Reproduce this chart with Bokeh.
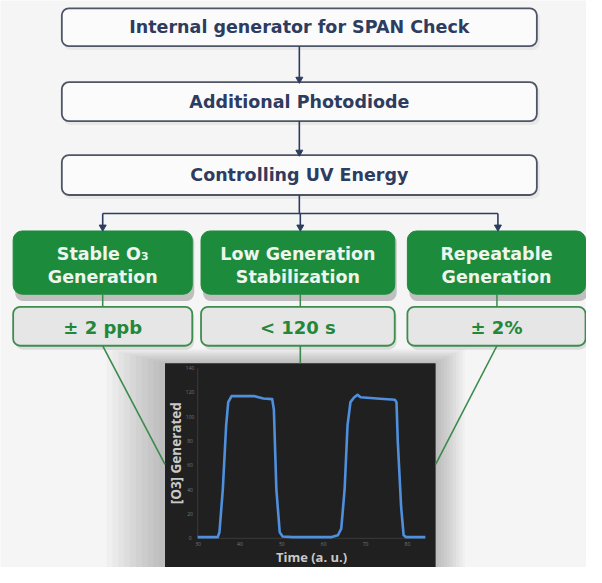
from bokeh.plotting import figure
from bokeh.models import Range1d, BoxAnnotation
from bokeh.embed import file_html
from bokeh.resources import INLINE
from bokeh.core.properties import value
import math

# ---------------- data ----------------
flow_steps = ["Internal generator for SPAN Check", "Additional Photodiode", "Controlling UV Energy"]
feature_line1 = ["Stable O\u2083", "Low Generation", "Repeatable"]
feature_line2 = ["Generation", "Stabilization", "Generation"]
feature_specs = ["\u00b1 2 ppb", "< 120 s", "\u00b1 2%"]

time_au = [29.9, 34.7, 35.1, 35.9, 36.7, 37.2, 38.0, 39.0, 43.3, 45.6, 47.7, 48.1, 48.7, 49.5,
           50.2, 52.6, 61.9, 63.4, 64.2, 65.0, 65.7, 66.4, 67.3, 68.1, 68.8, 72.7, 77.0, 77.4,
           77.7, 78.5, 79.1, 79.7, 84.3]
o3_generated = [1, 1, 5, 40, 93, 112, 117, 117, 117, 115, 114.5, 106, 40, 5,
                1.5, 1, 1, 2.5, 8, 40, 93, 112, 116, 118, 116, 115, 114, 112,
                80, 26, 2.5, 1, 1]
x_ticks = [30, 40, 50, 60, 70, 80]
y_ticks = [0, 20, 40, 60, 80, 100, 120, 140]
x_title = "Time (a. u.)"
y_title = "[O3] Generated"

# ---------------- layout (reference pixel space) ----------------
REF_W, REF_H = 602, 583
FONT = value("DejaVu Sans")
INSET_FONT = value("Open Sans")
NAVY = "#2d3c5f"
GREEN = "#1d8b3c"

p = figure(width=586, height=567, x_range=Range1d(0, REF_W), y_range=Range1d(REF_H, 0),
           x_axis_type=None, y_axis_type=None, output_backend="svg", toolbar_location=None,
           min_border=0)
p.grid.visible = False
p.outline_line_color = None
p.background_fill_color = "#f5f5f5"
p.border_fill_color = "#f5f5f5"

def box(l, r, t, b, fill, line, radius, alpha=1.0, lw=1.6, line_alpha=1.0):
    p.add_layout(BoxAnnotation(left=l, right=r, top=t, bottom=b, fill_color=fill, fill_alpha=alpha,
                               line_color=line, line_width=lw, line_alpha=line_alpha,
                               border_radius=radius, level="underlay"))

# top flow boxes
top_boxes = [(8, 47), (84, 124), (159, 200)]
for (t, b) in top_boxes:
    box(65, 554, t + 3, b + 4, "#000000", None, 7, alpha=0.05)
for (t, b) in top_boxes:
    box(63, 551, t, b, "#fbfbfb", "#4e5566", 7, lw=1.8)

# green feature boxes and grey spec boxes
cols = [(13, 197), (206, 405), (418, 601)]
for (l, r) in cols:
    box(l + 2, r + 2, 240, 309, "#000000", None, 8, alpha=0.22)
    box(l + 2, r + 2, 318, 359, "#000000", None, 8, alpha=0.10)
for (l, r) in cols:
    box(l, r, 237, 302, GREEN, GREEN, 9, lw=1)
    box(l, r, 315, 355, "#e5e6e5", "#3f8c4f", 7, lw=1.8)

# soft shadow around the inset chart (stacked translucent layers)
for i in range(10):
    box(169 - 6 * (i + 1), 447 + 3 * (i + 1), 373 - 1.5 * (i + 1), 590, "#000000", None, 0,
        alpha=0.022)
# inset panel
box(169, 447, 373, 590, "#202020", None, 0)

# connectors between top boxes
cx = 307
p.segment(x0=[cx, cx], y0=[47, 124], x1=[cx, cx], y1=[80, 155], line_color=NAVY, line_width=1.6)
p.scatter(x=[cx, cx], y=[81, 156], marker="inverted_triangle", size=7, fill_color=NAVY,
          line_color=NAVY)
# branching
p.segment(x0=[cx, 105], y0=[200, 219], x1=[cx, 511], y1=[219, 219], line_color=NAVY, line_width=1.6)
p.segment(x0=[105, 308, 511], y0=[219, 219, 219], x1=[105, 308, 511], y1=[232, 232, 232],
          line_color=NAVY, line_width=1.6)
p.scatter(x=[105, 308, 511], y=[233, 233, 233], marker="inverted_triangle", size=7,
          fill_color=NAVY, line_color=NAVY)

# green connectors
gc = "#3b8a4b"
p.segment(x0=[105, 308, 510], y0=[302, 302, 302], x1=[105, 308, 510], y1=[315, 315, 315],
          line_color=gc, line_width=1.5)
p.segment(x0=[105, 308, 510], y0=[355, 355, 355], x1=[169, 308, 447], y1=[477, 373, 477],
          line_color=gc, line_width=1.6)

# texts
p.text(x=[cx] * 3, y=[27.5, 104, 179.5], text=flow_steps, text_font=FONT, text_font_style="bold",
       text_font_size="17.5px", text_color=NAVY, text_align="center", text_baseline="middle")
centers = [(l + r) / 2 for (l, r) in cols]
p.text(x=centers, y=[261] * 3, text=feature_line1, text_font=FONT, text_font_style="bold",
       text_font_size="17.5px", text_color="#eef5ee", text_align="center", text_baseline="middle")
p.text(x=centers, y=[284] * 3, text=feature_line2, text_font=FONT, text_font_style="bold",
       text_font_size="17.5px", text_color="#eef5ee", text_align="center", text_baseline="middle")
p.text(x=centers, y=[336] * 3, text=feature_specs, text_font=FONT, text_font_style="bold",
       text_font_size="18px", text_color="#23873a", text_align="center", text_baseline="middle")

# ---------------- inset chart through its own ranges ----------------
PX_T0, PX_T1 = 203, 418        # reference pixels of the first and last x tick
PY_V0, PY_VTOP = 553, 378      # reference pixels of the first and last y tick
kx = (PX_T1 - PX_T0) / (x_ticks[-1] - x_ticks[0])
ky = (PY_V0 - PY_VTOP) / (y_ticks[-1] - y_ticks[0])
p.extra_x_ranges = {"t": Range1d(x_ticks[0] - PX_T0 / kx, x_ticks[0] + (REF_W - PX_T0) / kx)}
p.extra_y_ranges = {"v": Range1d(y_ticks[0] - (REF_H - PY_V0) / ky, y_ticks[0] + PY_V0 / ky)}

tmin, tmax = min(time_au), max(time_au)
# faint axis lines
p.segment(x0=[tmin, tmin], y0=[y_ticks[0], y_ticks[0]], x1=[tmax, tmin], y1=[y_ticks[0], y_ticks[-1]],
          x_range_name="t", y_range_name="v", line_color="#3a3a3a", line_width=1)
p.line(time_au, o3_generated, x_range_name="t", y_range_name="v", line_color="#4f8fdc",
       line_width=2.6, line_join="round")
p.text(x=x_ticks, y=[y_ticks[0]] * len(x_ticks), text=[str(v) for v in x_ticks],
       x_range_name="t", y_range_name="v", y_offset=4, text_font=INSET_FONT, text_font_size="5px",
       text_color="#777777", text_align="center", text_baseline="top")
p.text(x=[x_ticks[0]] * len(y_ticks), y=y_ticks, text=[str(v) for v in y_ticks],
       x_range_name="t", y_range_name="v", x_offset=-8, text_font=INSET_FONT, text_font_size="5px",
       text_color="#777777", text_align="center", text_baseline="middle")
p.text(x=[(tmin + tmax) / 2], y=[y_ticks[0]], text=[x_title], x_range_name="t", y_range_name="v",
       y_offset=10, text_font=INSET_FONT, text_font_style="bold", text_font_size="13px",
       text_color="#c9c9c9", text_align="center", text_baseline="top")
p.text(x=[x_ticks[0]], y=[(y_ticks[0] + y_ticks[-1]) / 2], text=[y_title], x_range_name="t",
       y_range_name="v", x_offset=-22, angle=math.pi / 2, text_font=INSET_FONT,
       text_font_style="bold", text_font_size="13.5px", text_color="#c9c9c9",
       text_align="center", text_baseline="middle")

open("out.html", "w").write(file_html(p, INLINE))
